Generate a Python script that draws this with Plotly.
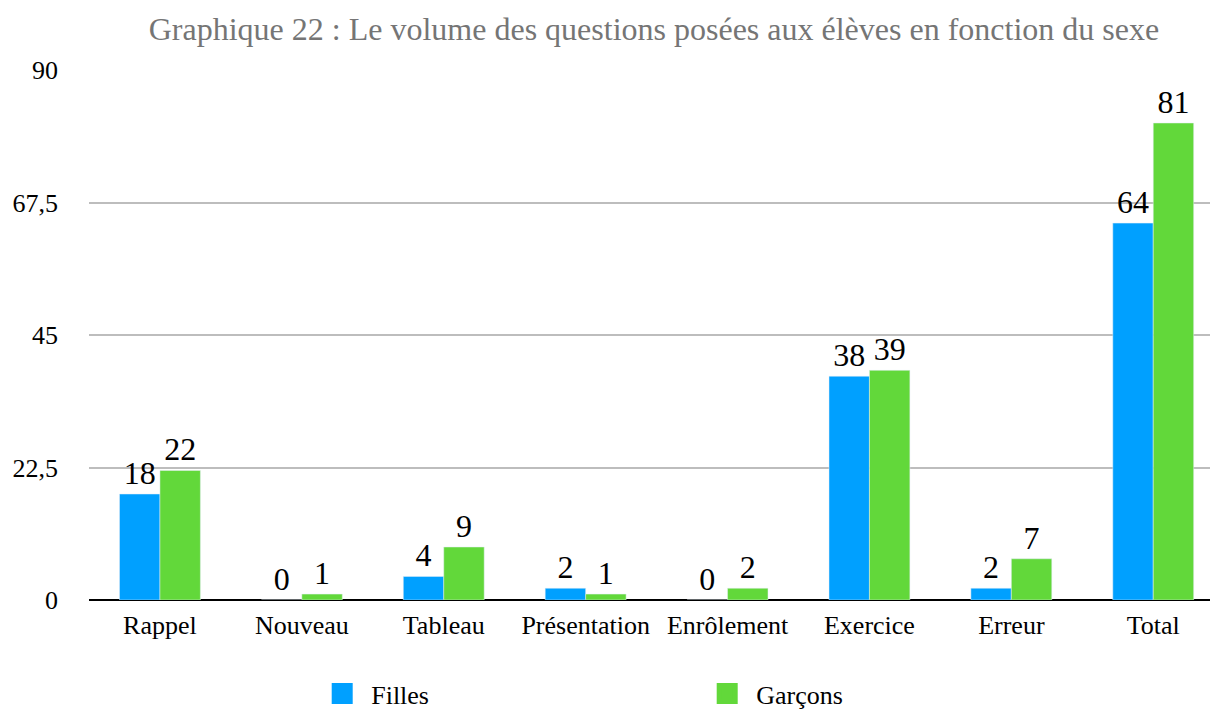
import plotly.graph_objects as go

categories = ["Rappel", "Nouveau", "Tableau", "Présentation", "Enrôlement",
              "Exercice", "Erreur", "Total"]
filles = [18, 0, 4, 2, 0, 38, 2, 64]
garcons = [22, 1, 9, 1, 2, 39, 7, 81]
y_ticks = [0, 22.5, 45, 67.5, 90]
y_labels = ["0", "22,5", "45", "67,5", "90"]

FONT = "Liberation Serif, Times New Roman, serif"
BLUE = "#00a0ff"
GREEN = "#62d83a"

fig = go.Figure()
fig.add_trace(go.Bar(
    x=categories, y=filles, name="Filles", marker_color=BLUE,
    text=filles, textposition="outside", cliponaxis=False, showlegend=False,
    textfont=dict(size=32, color="#000000", family=FONT),
))
fig.add_trace(go.Bar(
    x=categories, y=garcons, name="Garçons", marker_color=GREEN,
    text=garcons, textposition="outside", cliponaxis=False, showlegend=False,
    textfont=dict(size=32, color="#000000", family=FONT),
))
# legend-only entries with big square swatches
for name, col in [("Filles", BLUE), ("Garçons", GREEN)]:
    fig.add_trace(go.Scatter(
        x=[None], y=[None], mode="markers", name=name,
        marker=dict(symbol="square", size=16, color=col,
                    line=dict(color=col, width=5)),
    ))

fig.update_layout(
    title=dict(text="Graphique 22 : Le volume des questions posées aux élèves en fonction du sexe",
               x=0.54, xanchor="center", y=0.96, yanchor="middle",
               font=dict(size=32, color="#757575", family=FONT)),
    font=dict(family=FONT, color="#000000"),
    barmode="group", bargap=0.43, bargroupgap=0,
    width=1211, height=710,
    margin=dict(l=89, r=1, t=70, b=110),
    paper_bgcolor="white", plot_bgcolor="white",
    xaxis=dict(tickfont=dict(size=26), showgrid=False, ticks="",
               range=[-0.5, 7.4], ticklabelstandoff=7),
    yaxis=dict(range=[0, 90], tickvals=y_ticks, ticktext=y_labels,
               tickfont=dict(size=26), gridcolor="#bdbdbd", gridwidth=2,
               zeroline=True, zerolinecolor="#000000", zerolinewidth=2,
               ticks="", ticklen=0, ticklabelstandoff=30),
    legend=dict(orientation="h", x=0.2, xanchor="left",
                yref="container", y=0.023, yanchor="middle",
                font=dict(size=26), entrywidth=322, entrywidthmode="pixels",
                itemwidth=48, itemsizing="trace"),
)

fig.write_html(
    "out.html",
    config={"displayModeBar": False},
    post_script="document.body.style.margin='0';"
                "document.body.style.overflow='hidden';"
                "document.documentElement.style.overflow='hidden';",
)
